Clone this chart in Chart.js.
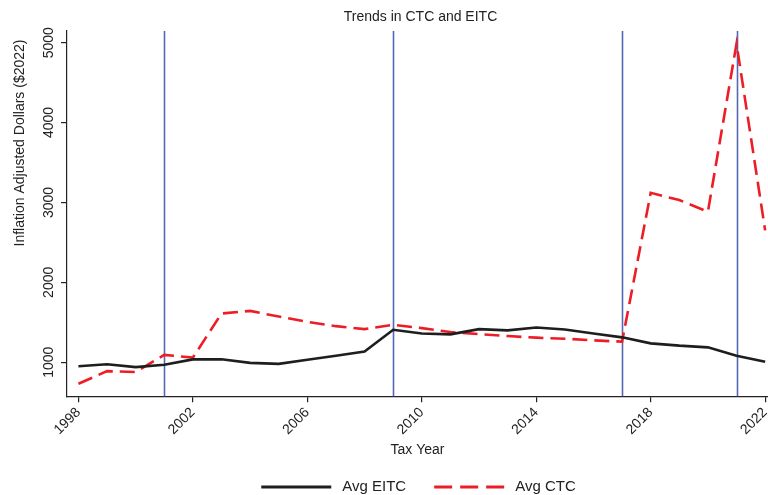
<!DOCTYPE html>
<html>
<head>
<meta charset="utf-8">
<script src="https://cdn.jsdelivr.net/npm/chart.js@4.4.1/dist/chart.umd.min.js"></script>
<style>
  html, body { margin: 0; padding: 0; background: #fff; }
  #wrap { width: 768px; height: 495px; position: relative; }
</style>
</head>
<body>
<div id="wrap"><canvas id="chart"></canvas></div>
<script>
const years = [1998, 1999, 2000, 2001, 2002, 2003, 2004, 2005, 2006, 2007, 2008, 2009, 2010,
  2011, 2012, 2013, 2014, 2015, 2016, 2017, 2018, 2019, 2020, 2021, 2022];
const avgEITC = [950, 975, 938, 967, 1035, 1037, 991, 979, 1030, 1080, 1133, 1406, 1360,
  1348, 1414, 1398, 1435, 1410, 1360, 1311, 1236, 1207, 1186, 1080, 1005];
const avgCTC = [730, 888, 876, 1091, 1058, 1609, 1642, 1571, 1505, 1451, 1414, 1468, 1426,
  1377, 1352, 1327, 1307, 1294, 1273, 1257, 3120, 3029, 2884, 4988, 2650];
const xTicks = [1998, 2002, 2006, 2010, 2014, 2018, 2022];
const yTicks = [1000, 2000, 3000, 4000, 5000];
const policyYears = [2001, 2009, 2017, 2021];

const FONT = "'Liberation Sans', Arial, sans-serif";
const textColor = '#222';

// lineas verticales, titulo, etiquetas del eje Y (giradas) y leyenda
const extras = {
  id: 'extras',
  beforeDatasetsDraw(chart) {
    const ctx = chart.ctx;
    const x = chart.scales.x;
    const area = chart.chartArea;
    ctx.save();
    ctx.strokeStyle = '#5468b3';
    ctx.lineWidth = 1.6;
    policyYears.forEach(yr => {
      const px = Math.round(x.getPixelForValue(yr)) + 0.5;
      ctx.beginPath();
      ctx.moveTo(px, area.top);
      ctx.lineTo(px, area.bottom);
      ctx.stroke();
    });
    ctx.restore();
  },
  afterDraw(chart) {
    const ctx = chart.ctx;
    const y = chart.scales.y;
    const area = chart.chartArea;
    const midX = (area.left + area.right) / 2;
    ctx.save();
    ctx.fillStyle = textColor;
    ctx.textAlign = 'center';
    ctx.textBaseline = 'middle';

    ctx.font = '14px ' + FONT;
    ctx.fillText('Trends in CTC and EITC', midX + 3, 17);

    yTicks.forEach(v => {
      const py = y.getPixelForValue(v);
      ctx.save();
      ctx.translate(49, py);
      ctx.rotate(-Math.PI / 2);
      ctx.fillText(String(v), 0, 0);
      ctx.restore();
    });
    ctx.save();
    ctx.translate(20, 143);
    ctx.rotate(-Math.PI / 2);
    ctx.fillText('Inflation Adjusted Dollars ($2022)', 0, 0);
    ctx.restore();

    // leyenda
    ctx.font = '15px ' + FONT;
    ctx.textAlign = 'left';
    const lineW = 70, gap = 11, between = 28;
    const items = chart.data.datasets.map(ds => ({
      ds, w: lineW + gap + ctx.measureText(ds.label).width
    }));
    const total = items.reduce((s, it) => s + it.w, 0) + between * (items.length - 1);
    let lx = midX + 1 - total / 2;
    const ly = 487;
    items.forEach(it => {
      ctx.save();
      ctx.strokeStyle = it.ds.borderColor;
      ctx.lineWidth = 3.2;
      ctx.setLineDash(it.ds.borderDash ? [18, 8] : []);
      ctx.beginPath();
      ctx.moveTo(lx, ly);
      ctx.lineTo(lx + lineW, ly);
      ctx.stroke();
      ctx.restore();
      ctx.fillText(it.ds.label, lx + lineW + gap, ly);
      lx += it.w + between;
    });
    ctx.restore();
  }
};

new Chart(document.getElementById('chart').getContext('2d'), {
  type: 'line',
  data: {
    datasets: [
      {
        label: 'Avg EITC',
        data: years.map((yr, i) => ({ x: yr, y: avgEITC[i] })),
        borderColor: '#1e1e1e',
        backgroundColor: '#1e1e1e',
        borderWidth: 2.6,
        pointRadius: 0,
        tension: 0
      },
      {
        label: 'Avg CTC',
        data: years.map((yr, i) => ({ x: yr, y: avgCTC[i] })),
        borderColor: '#ee1c25',
        backgroundColor: '#ee1c25',
        borderWidth: 2.6,
        borderDash: [15, 7],
        pointRadius: 0,
        tension: 0
      }
    ]
  },
  options: {
    responsive: true,
    maintainAspectRatio: false,
    animation: false,
    layout: { padding: { left: 0, right: 0, top: 31, bottom: 32 } },
    scales: {
      x: {
        type: 'linear',
        min: 1997.6,
        max: 2022.1,
        afterBuildTicks: s => { s.ticks = xTicks.map(v => ({ value: v })); },
        afterFit: s => { s.paddingLeft = 0; s.paddingRight = 0; },
        ticks: {
          minRotation: 45,
          maxRotation: 45,
          color: textColor,
          font: { family: FONT, size: 14 },
          padding: 2,
          callback: v => String(v)
        },
        grid: { drawOnChartArea: false, drawTicks: true, tickLength: 6, color: '#222', lineWidth: 1.2 },
        border: { display: true, color: '#222', width: 1.2 },
        title: {
          display: true,
          text: 'Tax Year',
          color: textColor,
          font: { family: FONT, size: 14 },
          padding: { top: 2, bottom: 4 }
        }
      },
      y: {
        min: 573,
        max: 5146,
        afterBuildTicks: s => { s.ticks = yTicks.map(v => ({ value: v })); },
        afterFit: s => { s.width = 67; },
        ticks: { display: false },
        grid: { drawOnChartArea: false, drawTicks: true, tickLength: 6, color: '#222', lineWidth: 1.2 },
        border: { display: true, color: '#222', width: 1.2 }
      }
    },
    plugins: {
      title: { display: false },
      legend: { display: false },
      tooltip: { enabled: false }
    }
  },
  plugins: [extras]
});
</script>
</body>
</html>
